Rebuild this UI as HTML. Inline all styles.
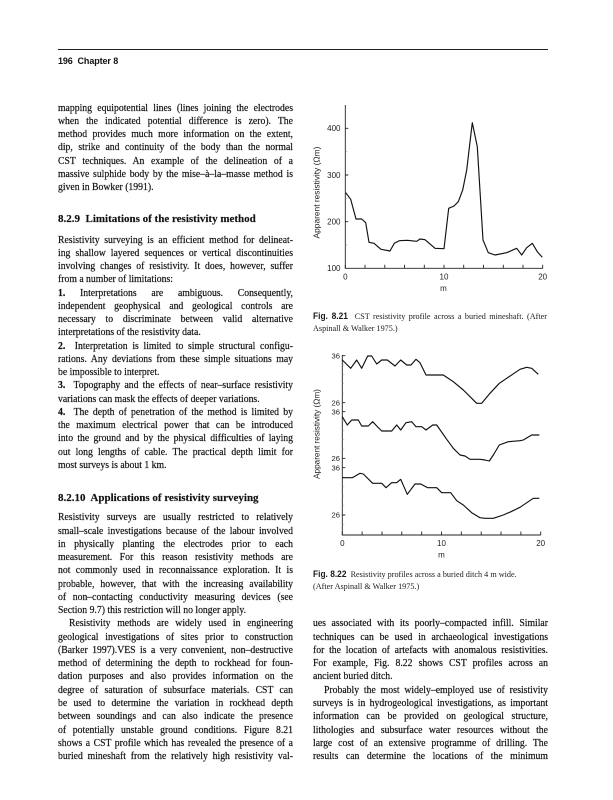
<!DOCTYPE html>
<html>
<head>
<meta charset="utf-8">
<style>
  html, body { margin:0; padding:0; background:#fff; }
  body { width:613px; height:800px; position:relative; overflow:hidden; }
  .rule { position:absolute; left:58px; top:49px; width:490px; height:1.3px; background:#222; }
  .hdr { position:absolute; left:58px; top:55.9px; font:bold 9px/11px "Liberation Sans", sans-serif; color:#111; white-space:pre; letter-spacing:-0.1px; }
  .col { position:absolute; width:261.1px; transform:scaleX(0.9); transform-origin:0 0;
         font:10.8px/13.27px "Liberation Serif", serif; color:#111; -webkit-text-stroke:0.2px #111; }
  .col div { text-align:justify; text-align-last:justify; height:13.27px; overflow:visible; }
  .col div.l { text-align-last:left; }
  .col div.i { text-indent:12.2px; }
  .h { position:absolute; font:bold 11px/13px "Liberation Serif", serif; color:#111; white-space:pre; -webkit-text-stroke:0.15px #111; }
  .cap { position:absolute; left:313px; width:251.6px; transform:scaleX(0.93); transform-origin:0 0;
         font:8.8px/12.3px "Liberation Serif", serif; color:#1a1a1a; }
  .cap div { text-align:justify; text-align-last:justify; height:12.3px; }
  .cap div.l { text-align-last:left; }
  .cap b { font:bold 9px "Liberation Sans", sans-serif; }
  svg { position:absolute; left:0; top:0; }
</style>
</head>
<body>
<div class="rule"></div>
<div class="hdr">196  Chapter 8</div>

<div class="col" style="left:58px; top:101.6px;">
<div>mapping equipotential lines (lines joining the electrodes</div>
<div>when the indicated potential difference is zero). The</div>
<div>method provides much more information on the extent,</div>
<div>dip, strike and continuity of the body than the normal</div>
<div>CST techniques. An example of the delineation of a</div>
<div>massive sulphide body by the mise–à–la–masse method is</div>
<div class="l">given in Bowker (1991).</div>
</div>

<div class="h" style="left:58px; top:212.9px;">8.2.9  Limitations of the resistivity method</div>

<div class="col" style="left:58px; top:233.5px;">
<div>Resistivity surveying is an efficient method for delineat-</div>
<div>ing shallow layered sequences or vertical discontinuities</div>
<div>involving changes of resistivity. It does, however, suffer</div>
<div class="l">from a number of limitations:</div>
<div><b>1.</b> Interpretations are ambiguous. Consequently,</div>
<div>independent geophysical and geological controls are</div>
<div>necessary to discriminate between valid alternative</div>
<div class="l">interpretations of the resistivity data.</div>
<div><b>2.</b>&nbsp; Interpretation is limited to simple structural configu-</div>
<div>rations. Any deviations from these simple situations may</div>
<div class="l">be impossible to interpret.</div>
<div><b>3.</b>&nbsp; Topography and the effects of near–surface resistivity</div>
<div class="l">variations can mask the effects of deeper variations.</div>
<div><b>4.</b>&nbsp; The depth of penetration of the method is limited by</div>
<div>the maximum electrical power that can be introduced</div>
<div>into the ground and by the physical difficulties of laying</div>
<div>out long lengths of cable. The practical depth limit for</div>
<div class="l">most surveys is about 1 km.</div>
</div>

<div class="h" style="left:58px; top:492.2px;">8.2.10  Applications of resistivity surveying</div>

<div class="col" style="left:58px; top:511.25px;">
<div>Resistivity surveys are usually restricted to relatively</div>
<div>small–scale investigations because of the labour involved</div>
<div>in physically planting the electrodes prior to each</div>
<div>measurement. For this reason resistivity methods are</div>
<div>not commonly used in reconnaissance exploration. It is</div>
<div>probable, however, that with the increasing availability</div>
<div>of non–contacting conductivity measuring devices (see</div>
<div class="l">Section 9.7) this restriction will no longer apply.</div>
<div class="i">Resistivity methods are widely used in engineering</div>
<div>geological investigations of sites prior to construction</div>
<div>(Barker 1997).VES is a very convenient, non–destructive</div>
<div>method of determining the depth to rockhead for foun-</div>
<div>dation purposes and also provides information on the</div>
<div>degree of saturation of subsurface materials. CST can</div>
<div>be used to determine the variation in rockhead depth</div>
<div>between soundings and can also indicate the presence</div>
<div>of potentially unstable ground conditions. Figure 8.21</div>
<div>shows a CST profile which has revealed the presence of a</div>
<div>buried mineshaft from the relatively high resistivity val-</div>
</div>

<div class="col" style="left:313px; top:617.4px;">
<div>ues associated with its poorly–compacted infill. Similar</div>
<div>techniques can be used in archaeological investigations</div>
<div>for the location of artefacts with anomalous resistivities.</div>
<div>For example, Fig. 8.22 shows CST profiles across an</div>
<div class="l">ancient buried ditch.</div>
<div class="i">Probably the most widely–employed use of resistivity</div>
<div>surveys is in hydrogeological investigations, as important</div>
<div>information can be provided on geological structure,</div>
<div>lithologies and subsurface water resources without the</div>
<div>large cost of an extensive programme of drilling. The</div>
<div>results can determine the locations of the minimum</div>
</div>

<div class="cap" style="top:309.9px;">
<div><b>Fig. 8.21</b>&nbsp; CST resistivity profile across a buried mineshaft. (After</div>
<div class="l">Aspinall &amp; Walker 1975.)</div>
</div>

<div class="cap" style="top:567.9px;">
<div class="l"><b>Fig. 8.22</b>&nbsp; Resistivity profiles across a buried ditch 4 m wide.</div>
<div class="l">(After Aspinall &amp; Walker 1975.)</div>
</div>

<svg width="613" height="800" viewBox="0 0 613 800">
  <!-- Chart 1 axes -->
  <g stroke="#222" fill="none" stroke-width="0.9">
    <path d="M345.3 105 V268.3 H543"/>
    <path d="M345.3 128.3 h3 M345.3 175 h3 M345.3 221.7 h3"/>
    <path d="M345.3 268.3 v-3.5 M365 268.3 v-3.5 M384.8 268.3 v-3.5 M404.5 268.3 v-3.5 M424.3 268.3 v-3.5 M444 268.3 v-3.5 M463.7 268.3 v-3.5 M483.5 268.3 v-3.5 M503.3 268.3 v-3.5 M523 268.3 v-3.5 M542.7 268.3 v-3.5"/>
  </g>
  <g stroke="#999" fill="none" stroke-width="0.7">
    <path d="M345.3 151.7 h2 M345.3 198.3 h2 M345.3 245 h2"/>
  </g>
  <polyline fill="none" stroke="#111" stroke-width="1.15" stroke-linejoin="round"
    points="345.7,192.7 350.7,199.3 356,219 361.7,219 365.7,222.7 369,242.3 374,243.3 381,249.3 390,251 394.3,243.3 399.3,240.7 407.3,240.3 416.7,241.3 420,239 425,239.7 435,248.3 444,248.7 448.7,208.3 454,206 458.3,201.7 462.7,190 466.7,170 472.3,122.7 477.3,146.7 483,240 488.3,252.7 495,255 506.7,252.7 516.7,248.3 521.7,255 526.7,247.7 532.3,243.3 537.3,251.7 542.3,257.3"/>
  <g font-family="Liberation Sans, sans-serif" font-size="8" fill="#222">
    <text x="340.5" y="131.2" text-anchor="end">400</text>
    <text x="340.5" y="177.9" text-anchor="end">300</text>
    <text x="340.5" y="224.6" text-anchor="end">200</text>
    <text x="340.5" y="271.2" text-anchor="end">100</text>
    <text x="345.3" y="279.6" text-anchor="middle">0</text>
    <text x="444" y="279.6" text-anchor="middle">10</text>
    <text x="542.7" y="279.6" text-anchor="middle">20</text>
    <text x="443.5" y="290.8" text-anchor="middle">m</text>
    <text transform="translate(319.4,192.5) rotate(-90)" text-anchor="middle" font-size="8.4">Apparent resistivity (Ωm)</text>
  </g>

  <!-- Chart 2 axes -->
  <g stroke="#222" fill="none" stroke-width="0.9">
    <path d="M342.3 355 V535 H540.7"/>
    <path d="M342.3 355.7 h3 M342.3 402.7 h3 M342.3 411.7 h3 M342.3 458.3 h3 M342.3 467.7 h3 M342.3 515 h3"/>
    <path d="M342.3 535 v-3.5 M362.1 535 v-3.5 M382 535 v-3.5 M401.8 535 v-3.5 M421.7 535 v-3.5 M441.5 535 v-3.5 M461.3 535 v-3.5 M481.2 535 v-3.5 M501 535 v-3.5 M520.9 535 v-3.5 M540.7 535 v-3.5"/>
  </g>
  <g stroke="#aaa" fill="none" stroke-width="0.7">
    <path d="M342.3 365.1 h2 M342.3 374.5 h2 M342.3 383.9 h2 M342.3 393.3 h2
             M342.3 421.0 h2 M342.3 430.4 h2 M342.3 439.7 h2 M342.3 449.0 h2
             M342.3 477.1 h2 M342.3 486.6 h2 M342.3 496.0 h2 M342.3 505.5 h2 M342.3 524.5 h2"/>
  </g>
  <g fill="none" stroke="#111" stroke-width="1.15" stroke-linejoin="round">
    <polyline points="342.3,360 350.7,368.3 356.7,360 361.7,368.3 367.7,356 371.7,356 376.7,364 381.7,360 387.3,360 395,366 400.7,360 406.7,365 411,365 416,359.3 420,362.7 426,375 436.7,375 443.3,375 453.3,381.7 463.3,390 471.7,398.3 476.7,403.3 481.7,403.3 490,393.3 499.3,383.3 506.7,378.3 520,369.3 526.7,367.3 531.7,368.3 538.3,374.3"/>
    <polyline points="342.3,416.7 347.3,425 351.7,420 358.3,420 361.7,426 368.3,426 372.7,421.7 376.7,426 381.7,431 391.7,431 396.7,425 400.7,430 406,422.7 411.7,421.7 416,426.7 421.7,426.7 426,430 432.7,425 436.7,425 446.7,439.3 453.3,448.3 460,455 465,456 470,459.3 480,459.3 485,460 489.3,461 493.3,455 499.3,445 508.3,441.7 520,440.7 523.3,440 531.7,435 539.3,435"/>
    <polyline points="342.3,477.7 352.3,477.7 360,473.3 363.3,474 372.7,483.3 381.7,483.3 386,487.7 391.7,482.7 396.7,482.7 400.7,479.3 407.3,494.3 415,484 420.7,484 427.7,487.7 436.7,487.7 441.7,492.7 450.7,492.7 456.7,500.7 463.3,505 471.7,512.7 480,517.7 485,518.3 493.3,518.3 503.3,515 511,511.7 520,507.3 528.3,501.7 533.3,498.3 539.3,498.3"/>
  </g>
  <g font-family="Liberation Sans, sans-serif" font-size="7.6" fill="#222">
    <text x="340" y="358.4" text-anchor="end">36</text>
    <text x="340" y="405.4" text-anchor="end">26</text>
    <text x="340" y="414.4" text-anchor="end">36</text>
    <text x="340" y="461" text-anchor="end">26</text>
    <text x="340" y="470.4" text-anchor="end">36</text>
    <text x="340" y="517.7" text-anchor="end">26</text>
  </g>
  <g font-family="Liberation Sans, sans-serif" font-size="8" fill="#222">
    <text x="342.3" y="546.2" text-anchor="middle">0</text>
    <text x="441.5" y="546.2" text-anchor="middle">10</text>
    <text x="540.7" y="546.2" text-anchor="middle">20</text>
    <text x="441.5" y="557.3" text-anchor="middle">m</text>
    <text transform="translate(319.4,434) rotate(-90)" text-anchor="middle" font-size="8.2">Apparent resistivity (Ωm)</text>
  </g>
</svg>
</body>
</html>
